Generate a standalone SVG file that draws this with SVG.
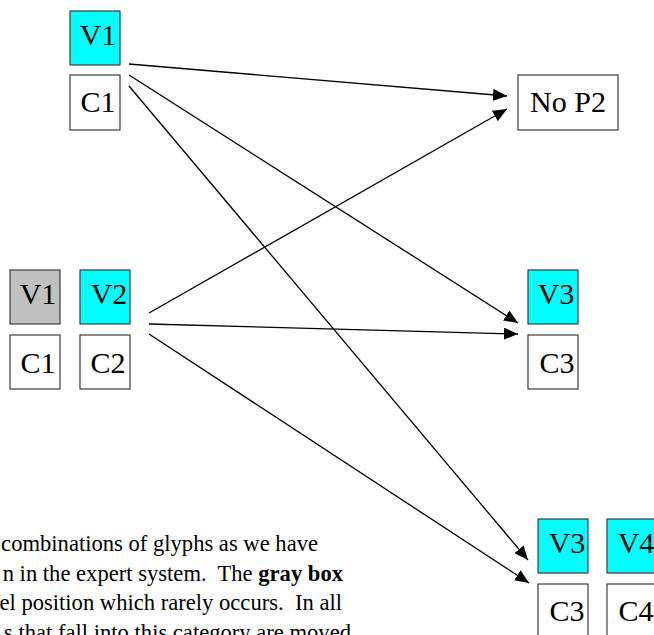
<svg xmlns="http://www.w3.org/2000/svg" width="654" height="635" viewBox="0 0 654 635">
<style>
.box{stroke:#3c3c3c;stroke-width:1.2;fill:#ffffff}
.cy{fill:#00ffff}
.gr{fill:#c0c0c0}
.lbl{font-family:"Liberation Serif","Times New Roman",serif;font-size:30px;fill:#000;text-anchor:middle}
.para{font-family:"Liberation Serif","Times New Roman",serif;font-size:22.6px;fill:#000;text-anchor:end}
.conn{stroke:#000;stroke-width:1.3;fill:none;marker-end:url(#arr)}
</style>
<defs>
<marker id="arr" markerUnits="userSpaceOnUse" markerWidth="14" markerHeight="12" refX="14" refY="6" orient="auto">
<path d="M0,0 L14,6 L0,12 z" fill="#000"/>
</marker>
</defs>
<rect width="654" height="635" fill="#ffffff"/>
<g id="top-v1"><rect class="box cy" x="70" y="11" width="50" height="54"/><text class="lbl" x="98" y="45">V1</text></g>
<g id="top-c1"><rect class="box" x="70" y="75" width="50" height="55"/><text class="lbl" x="98" y="112">C1</text></g>
<g id="nop2"><rect class="box" x="518" y="75" width="100" height="55"/><text class="lbl" x="568" y="112">No P2</text></g>
<g id="mid-v1"><rect class="box gr" x="10" y="270" width="50" height="54"/><text class="lbl" x="38" y="304">V1</text></g>
<g id="mid-v2"><rect class="box cy" x="80" y="270" width="50" height="54"/><text class="lbl" x="109" y="304">V2</text></g>
<g id="mid-c1"><rect class="box" x="10" y="335" width="50" height="54"/><text class="lbl" x="38" y="373">C1</text></g>
<g id="mid-c2"><rect class="box" x="80" y="335" width="50" height="54"/><text class="lbl" x="108" y="373">C2</text></g>
<g id="r-v3"><rect class="box cy" x="528" y="270" width="50" height="54"/><text class="lbl" x="556" y="304">V3</text></g>
<g id="r-c3"><rect class="box" x="528" y="335" width="50" height="54"/><text class="lbl" x="557" y="373">C3</text></g>
<g id="b-v3"><rect class="box cy" x="538" y="519" width="50" height="54"/><text class="lbl" x="567" y="553">V3</text></g>
<g id="b-v4"><rect class="box cy" x="607" y="519" width="50" height="54"/><text class="lbl" x="636" y="553">V4</text></g>
<g id="b-c3"><rect class="box" x="538" y="584" width="50" height="55"/><text class="lbl" x="567" y="621">C3</text></g>
<g id="b-c4"><rect class="box" x="607" y="584" width="50" height="55"/><text class="lbl" x="636" y="621">C4</text></g>
<g id="connectors">
<line class="conn" x1="129" y1="64" x2="507" y2="96"/>
<line class="conn" x1="129" y1="75" x2="518" y2="323"/>
<line class="conn" x1="129" y1="86" x2="528" y2="560"/>
<line class="conn" x1="149" y1="313" x2="507" y2="109"/>
<line class="conn" x1="149" y1="324" x2="518" y2="334"/>
<line class="conn" x1="149" y1="334" x2="529" y2="583"/>
</g>
<g id="caption">
<text class="para" x="318" y="551" xml:space="preserve">combinations of glyphs as we have</text>
<text class="para" x="343" y="581" xml:space="preserve">n in the expert system.  The <tspan font-weight="bold">gray box</tspan></text>
<text class="para" x="342" y="610" xml:space="preserve">el position which rarely occurs.  In all</text>
<text class="para" x="351" y="640" xml:space="preserve">s that fall into this category are moved</text>
</g>
</svg>
